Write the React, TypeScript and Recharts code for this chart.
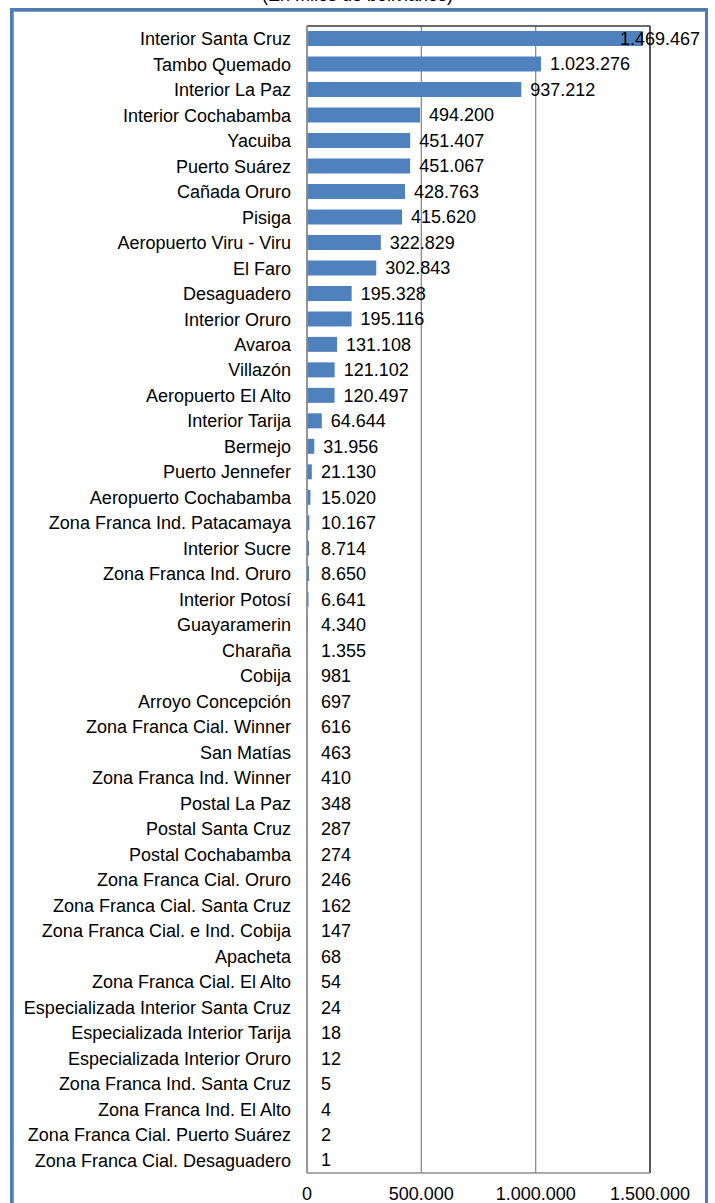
import { BarChart, Bar, XAxis, YAxis, CartesianGrid, ReferenceLine, LabelList } from "recharts";

const aduanas = [
  "Interior Santa Cruz",
  "Tambo Quemado",
  "Interior La Paz",
  "Interior Cochabamba",
  "Yacuiba",
  "Puerto Suárez",
  "Cañada Oruro",
  "Pisiga",
  "Aeropuerto Viru - Viru",
  "El Faro",
  "Desaguadero",
  "Interior Oruro",
  "Avaroa",
  "Villazón",
  "Aeropuerto El Alto",
  "Interior Tarija",
  "Bermejo",
  "Puerto Jennefer",
  "Aeropuerto Cochabamba",
  "Zona Franca Ind. Patacamaya",
  "Interior Sucre",
  "Zona Franca Ind. Oruro",
  "Interior Potosí",
  "Guayaramerin",
  "Charaña",
  "Cobija",
  "Arroyo Concepción",
  "Zona Franca Cial. Winner",
  "San Matías",
  "Zona Franca Ind. Winner",
  "Postal La Paz",
  "Postal Santa Cruz",
  "Postal Cochabamba",
  "Zona Franca Cial. Oruro",
  "Zona Franca Cial. Santa Cruz",
  "Zona Franca Cial. e Ind. Cobija",
  "Apacheta",
  "Zona Franca Cial. El Alto",
  "Especializada Interior Santa Cruz",
  "Especializada Interior Tarija",
  "Especializada Interior Oruro",
  "Zona Franca Ind. Santa Cruz",
  "Zona Franca Ind. El Alto",
  "Zona Franca Cial. Puerto Suárez",
  "Zona Franca Cial. Desaguadero",
];

// miles de bolivianos
const montos = [
  1469467, 1023276, 937212, 494200, 451407, 451067, 428763, 415620, 322829, 302843,
  195328, 195116, 131108, 121102, 120497, 64644, 31956, 21130, 15020, 10167,
  8714, 8650, 6641, 4340, 1355, 981, 697, 616, 463, 410,
  348, 287, 274, 246, 162, 147, 68, 54, 24, 18,
  12, 5, 4, 2, 1,
];

const xTicks = [0, 500000, 1000000, 1500000];

const data = aduanas.map((name, i) => ({ name, value: montos[i] }));

const FONT = "'Liberation Sans', Arial, sans-serif";

const fmt = (v: number) => String(v).replace(/\B(?=(\d{3})+(?!\d))/g, ".");

const ValueLabel = (props: any) => {
  const { x, y, width, height, value } = props;
  // outside end, pushed left when it would leave the frame
  const lx = Math.min(Math.max(x + width + 9, 321), 620);
  return (
    <text
      x={lx}
      y={y + height / 2}
      dy="0.36em"
      fontSize={18}
      fontFamily={FONT}
      fill="#000"
    >
      {fmt(value)}
    </text>
  );
};

const App = () => {
  return (
    <div
      style={{
        position: "absolute",
        left: 0,
        top: 0,
        width: 715,
        height: 1203,
        overflow: "hidden",
        background: "#fff",
        fontFamily: FONT,
      }}
    >
      {/* title, cut off at the top */}
      <div
        style={{
          position: "absolute",
          left: 0,
          width: 715,
          top: -15,
          textAlign: "center",
          fontSize: 18,
          lineHeight: "20px",
          color: "#000",
        }}
      >
        (En miles de bolivianos)
      </div>

      {/* outer frame */}
      <div
        style={{
          position: "absolute",
          left: 10,
          top: 8,
          width: 692,
          height: 1260,
          border: "3px solid #4a7ebb",
          boxShadow: "inset 1px 1px 0 #9a9a9a",
        }}
      />

      <div style={{ position: "absolute", left: 0, top: 0 }}>
        <BarChart
          layout="vertical"
          width={715}
          height={1203}
          data={data}
          margin={{ top: 26, right: 65, bottom: 0, left: 0 }}
          barSize={15}
        >
          <CartesianGrid horizontal={false} stroke="#8c8c8c" strokeWidth={1.3} />
          <CartesianGrid vertical={false} horizontalPoints={[26]} stroke="#3a3a3a" strokeWidth={1.5} />
          <ReferenceLine x={1500000} stroke="#3a3a3a" strokeWidth={1.5} />
          <XAxis
            type="number"
            domain={[0, 1500000]}
            ticks={xTicks}
            tickFormatter={fmt}
            axisLine={{ stroke: "#8c8c8c", strokeWidth: 1.5 }}
            tickLine={false}
            tickSize={6}
            tickMargin={8}
            height={30}
            tick={{ fontSize: 18, fontFamily: FONT, fill: "#000" }}
          />
          <YAxis
            type="category"
            dataKey="name"
            width={307}
            interval={0}
            axisLine={{ stroke: "#8c8c8c", strokeWidth: 1.5 }}
            tickLine={false}
            tickSize={6}
            tickMargin={10}
            tick={{ fontSize: 18, fontFamily: FONT, fill: "#000" }}
          />
          <Bar dataKey="value" fill="#4f81bd" isAnimationActive={false}>
            <LabelList dataKey="value" content={<ValueLabel />} />
          </Bar>
        </BarChart>
      </div>
    </div>
  );
};

export default App;
